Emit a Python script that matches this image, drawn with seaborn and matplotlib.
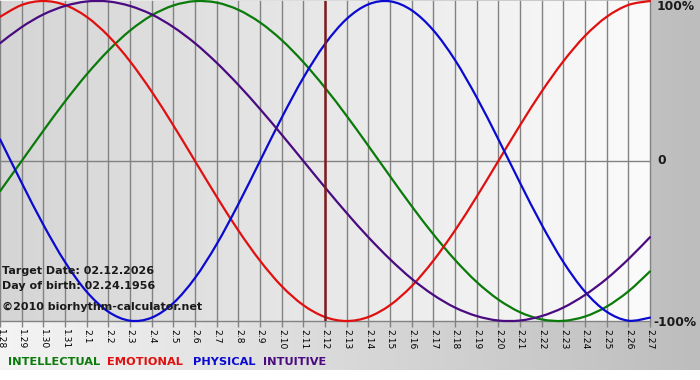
import numpy as np
import pandas as pd
import matplotlib
matplotlib.use("Agg")
import matplotlib.pyplot as plt
from matplotlib.path import Path
from matplotlib.patches import PathPatch
import seaborn as sns

dates = ["1.28", "1.29", "1.30", "1.31", "2.1", "2.2", "2.3", "2.4", "2.5", "2.6",
         "2.7", "2.8", "2.9", "2.10", "2.11", "2.12", "2.13", "2.14", "2.15", "2.16",
         "2.17", "2.18", "2.19", "2.20", "2.21", "2.22", "2.23", "2.24", "2.25", "2.26", "2.27"]

physical = [0.136, -0.136, -0.398, -0.631, -0.817, -0.942, -0.998, -0.979, -0.888, -0.731,
            -0.520, -0.270, 0.000, 0.270, 0.520, 0.731, 0.888, 0.979, 0.998, 0.942,
            0.817, 0.631, 0.398, 0.136, -0.136, -0.398, -0.631, -0.817, -0.942, -0.998, -0.979]
emotional = [0.901, 0.975, 1.000, 0.975, 0.901, 0.782, 0.623, 0.434, 0.223, 0.000,
             -0.223, -0.434, -0.623, -0.782, -0.901, -0.975, -1.000, -0.975, -0.901, -0.782,
             -0.623, -0.434, -0.223, 0.000, 0.223, 0.434, 0.623, 0.782, 0.901, 0.975, 1.000]
intellectual = [-0.189, 0.000, 0.189, 0.372, 0.541, 0.690, 0.815, 0.910, 0.972, 0.999,
                0.990, 0.945, 0.866, 0.756, 0.618, 0.458, 0.282, 0.095, -0.095, -0.282,
                -0.458, -0.618, -0.756, -0.866, -0.945, -0.990, -0.999, -0.972, -0.910, -0.815, -0.690]
intuitive = [0.736, 0.837, 0.916, 0.969, 0.997, 0.997, 0.969, 0.916, 0.837, 0.736,
             0.614, 0.476, 0.325, 0.165, 0.000, -0.165, -0.325, -0.476, -0.614, -0.736,
             -0.837, -0.916, -0.969, -0.997, -0.997, -0.969, -0.916, -0.837, -0.736, -0.614, -0.476]

target_label = "2.12"
series_names = ["INTELLECTUAL", "EMOTIONAL", "PHYSICAL", "INTUITIVE"]
colors = {"INTELLECTUAL": "#0a7a0a", "EMOTIONAL": "#e01010",
          "PHYSICAL": "#0a0ad0", "INTUITIVE": "#4a0a80"}

W, H = 700, 380
fig = plt.figure(figsize=(W / 100, H / 100), dpi=100)
fig.patch.set_facecolor("white")

# background gradient band
bg = fig.add_axes([0, 10 / H, 1, 370 / H], zorder=0)
grad = np.linspace(0, 1, 256)[None, :]
bg.imshow(grad, aspect="auto", cmap=matplotlib.colors.LinearSegmentedColormap.from_list(
    "bgc", ["#f4f4f4", "#bdbdbd"]), extent=[0, 1, 0, 1])
bg.set_axis_off()

ax_left, ax_right = 0, 650
ax_bottom_px, ax_top_px = 321, 1
ax = fig.add_axes([ax_left / W, (H - ax_bottom_px) / H, (ax_right - ax_left) / W,
                   (ax_bottom_px - ax_top_px) / H], zorder=1)

n = len(dates)
x = np.arange(n)
ax.set_xlim(0, n - 1)
ax.set_ylim(-1, 1)

ax.imshow(grad, aspect="auto", cmap=matplotlib.colors.LinearSegmentedColormap.from_list(
    "pa", ["#d5d5d5", "#fbfbfb"]), extent=[0, n - 1, -1, 1], zorder=0)

for xi in x:
    ax.axvline(xi, color="#828282", lw=1.0, zorder=1, clip_on=False)
ax.axhline(0, color="#828282", lw=1.0, zorder=1)
ax.axhline(-1, color="#828282", lw=1.0, zorder=1, clip_on=False)

df = pd.DataFrame({
    "day": np.tile(x, 4),
    "value": intellectual + emotional + physical + intuitive,
    "series": np.repeat(series_names, n),
})
sns.lineplot(data=df, x="day", y="value", hue="series", palette=colors,
             hue_order=series_names, legend=False, ax=ax, lw=1.6, zorder=3)


def smooth_path(xs, ys):
    pts = np.column_stack([xs, ys]).astype(float)
    ext = np.vstack([pts[0], pts, pts[-1]])
    verts = [pts[0]]
    codes = [Path.MOVETO]
    for i in range(1, len(ext) - 2):
        p0, p1, p2, p3 = ext[i - 1], ext[i], ext[i + 1], ext[i + 2]
        c1 = p1 + (p2 - p0) / 6.0
        c2 = p2 - (p3 - p1) / 6.0
        verts += [c1, c2, p2]
        codes += [Path.CURVE4] * 3
    return Path(verts, codes)


# render the seaborn lines as smooth curves through the same points
for line in list(ax.lines):
    if line.get_zorder() != 3:
        continue
    xd, yd = line.get_xdata(), line.get_ydata()
    patch = PathPatch(smooth_path(xd, yd), facecolor="none", edgecolor=line.get_color(),
                      lw=1.6, zorder=3, clip_on=False, capstyle="round", joinstyle="round")
    ax.add_patch(patch)
    line.set_visible(False)

ti = dates.index(target_label)
ax.axvline(ti, color="#7e1c1c", lw=1.8, zorder=4)

ax.set_xticks(x)
ax.set_xticklabels(dates, rotation=-90, fontsize=6.6, family="DejaVu Sans")
ax.tick_params(axis="x", length=4, width=1, color="#828282", pad=1.5)
ax.set_yticks([])
ax.set_xlabel("")
ax.set_ylabel("")
for s in ax.spines.values():
    s.set_visible(False)


def px(xp, yp):
    return xp / W, 1 - yp / H


tkw = dict(fontsize=8.0, fontweight="bold", color="#1a1a1a", family="DejaVu Sans",
           va="center", ha="left", zorder=5)
fig.text(*px(2, 271), "Target Date: 02.12.2026", **tkw)
fig.text(*px(2, 286), "Day of birth: 02.24.1956", **tkw)
fig.text(*px(2, 307), "\u00a92010 biorhythm-calculator.net", **tkw)

rkw = dict(fontsize=8.8, fontweight="bold", color="#1a1a1a", family="DejaVu Sans",
           va="center", ha="left", zorder=5)
fig.text(*px(657, 7), "100%", **rkw)
fig.text(*px(657, 161), "0", **rkw)
fig.text(*px(653, 322), "-100%", **rkw)

legend_x = [8, 107, 193, 263]
for name, lx in zip(series_names, legend_x):
    fig.text(*px(lx, 362), name, fontsize=8.2, fontweight="bold", color=colors[name],
             family="DejaVu Sans", va="center", ha="left", zorder=5)

fig.savefig("out.png", dpi=100, facecolor=fig.get_facecolor())
